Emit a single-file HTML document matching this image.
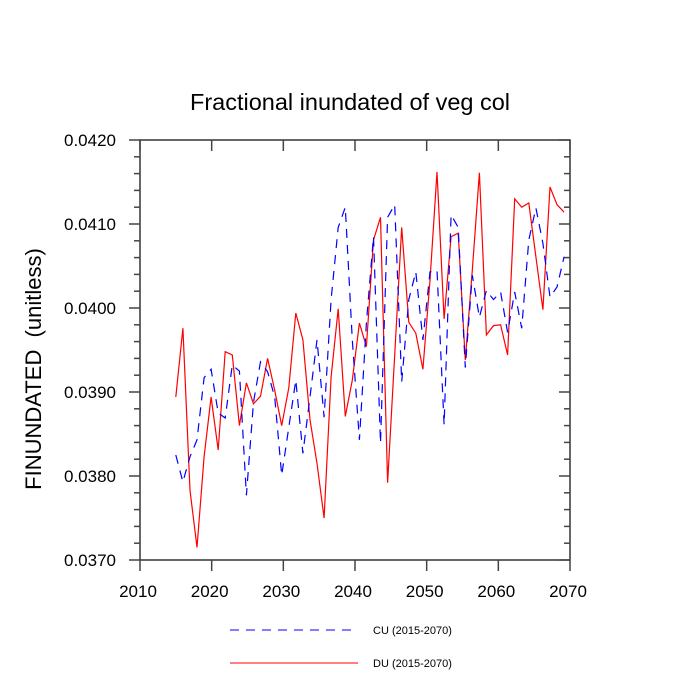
<!DOCTYPE html>
<html><head><meta charset="utf-8"><style>
body{margin:0;background:#fff;}
svg{display:block;font-family:"Liberation Sans",sans-serif;}
</style></head><body>
<svg id="chart" width="700" height="700" viewBox="0 0 700 700" xmlns="http://www.w3.org/2000/svg">
<text x="350" y="110" font-size="23.5" text-anchor="middle">Fractional inundated of veg col</text>
<text transform="translate(41,369) rotate(-90)" font-size="22" text-anchor="middle" xml:space="preserve">FINUNDATED  (unitless)</text>
<g id="axes"></g>
<g id="series"></g>
<g>
<line x1="230" y1="630" x2="358" y2="630" stroke="#0000ff" stroke-width="1" stroke-dasharray="9,7"/>
<text x="373" y="634" font-size="11">CU (2015-2070)</text>
<line x1="230" y1="663" x2="358" y2="663" stroke="#ff0000" stroke-width="1"/>
<text x="373" y="667" font-size="11">DU (2015-2070)</text>
</g>
</svg>
<script>
const xTicks=[2010,2020,2030,2040,2050,2060,2070];
const yTicks=[0.0370,0.0380,0.0390,0.0400,0.0410,0.0420];
const yTickLabels=["0.0370","0.0380","0.0390","0.0400","0.0410","0.0420"];
const cuValues=[3.825,3.793,3.823,3.843,3.917,3.927,3.875,3.869,3.932,3.925,3.777,3.888,3.936,3.924,3.894,3.801,3.858,3.914,3.827,3.894,3.962,3.870,4.010,4.096,4.120,3.962,3.843,3.982,4.085,3.839,4.108,4.123,3.912,4.010,4.043,3.962,4.043,4.045,3.861,4.111,4.096,3.929,4.039,3.989,4.021,4.010,4.019,3.971,4.019,3.976,4.081,4.119,4.077,4.013,4.025,4.061];
const duValues=[3.894,3.976,3.783,3.715,3.823,3.894,3.831,3.948,3.944,3.860,3.911,3.886,3.895,3.940,3.902,3.860,3.905,3.994,3.962,3.867,3.815,3.750,3.918,3.999,3.871,3.914,3.982,3.954,4.081,4.108,3.792,3.944,4.096,3.983,3.970,3.927,4.033,4.162,3.987,4.085,4.089,3.938,4.045,4.161,3.968,3.979,3.980,3.944,4.130,4.120,4.125,4.061,3.998,4.144,4.123,4.114];
const startYear=2015, yearStep=0.985;
const L=140,R=570,T=140,B=560;
const xs=v=>L+(v-2010)/60*(R-L);
const ys=v=>B-(v-0.037)/0.005*(B-T);
const NS="http://www.w3.org/2000/svg";
function mk(tag,attrs,parent){const e=document.createElementNS(NS,tag);for(const k in attrs)e.setAttribute(k,attrs[k]);parent.appendChild(e);return e;}
const axes=document.getElementById('axes');
const frame=mk('rect',{x:L,y:T,width:R-L,height:B-T,fill:'none',stroke:'#333',"stroke-width":1.5},axes);


const ac='#444';
xTicks.forEach(t=>{
  const x=xs(t);
  const a=mk('line',{x1:x,y1:B,x2:x,y2:B+11,stroke:ac,"stroke-width":1.5},axes);
  
  
  const b=mk('line',{x1:x,y1:T,x2:x,y2:T+11,stroke:ac,"stroke-width":1.5},axes);
  
  
  const tx=mk('text',{x:x-2,y:B+37,"font-size":17,"text-anchor":"middle"},axes);
  tx.textContent=t;
  
  
});
for(let i=0;i<=25;i++){
  const v=0.037+i*0.0002;const y=ys(v);const major=i%5===0;const len=major?11:6;
  const a=mk('line',{x1:L-len,y1:y,x2:L,y2:y,stroke:ac,"stroke-width":1.5},axes);
  
  
  const b=mk('line',{x1:R,y1:y,x2:R-len,y2:y,stroke:ac,"stroke-width":1.5},axes);
  
  
}
yTicks.forEach((t,i)=>{
  const tx=mk('text',{x:L-24,y:ys(t)+6,"font-size":17,"text-anchor":"end"},axes);
  tx.textContent=yTickLabels[i];
  
  
});
const ser=document.getElementById('series');
function pts(vals){return vals.map((v,i)=>xs(startYear+i*yearStep).toFixed(1)+','+ys(v/100).toFixed(1)).join(' ');}
const du=mk('polyline',{points:pts(duValues),fill:'none',stroke:'#ff0000',"stroke-width":1.2},ser);


const cu=mk('polyline',{points:pts(cuValues),fill:'none',stroke:'#0000ff',"stroke-width":1.2,"stroke-dasharray":"9,7"},ser);


</script>
</body></html>
